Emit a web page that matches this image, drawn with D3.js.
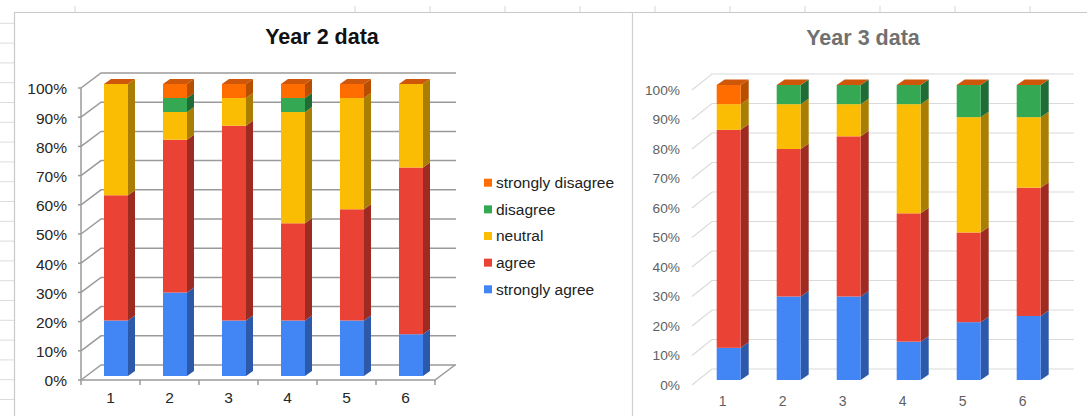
<!DOCTYPE html>
<html>
<head>
<meta charset="utf-8">
<script src="https://cdn.jsdelivr.net/npm/d3@7"></script>
<style>
  html, body { margin: 0; padding: 0; background: #fff; }
  svg { display: block; font-family: "Liberation Sans", Arial, sans-serif; }
</style>
</head>
<body>
<svg id="sheet" width="1087" height="416"></svg>
<script>
// ---- data ----
const categories = ["1", "2", "3", "4", "5", "6"];
const seriesNames = ["strongly agree", "agree", "neutral", "disagree", "strongly disagree"];

// Year 2 (% of responses)
const year2StronglyAgree    = [19.0, 28.6, 19.0, 19.0, 19.0, 14.3];
const year2Agree            = [42.9, 52.4, 66.7, 33.3, 38.1, 57.1];
const year2Neutral          = [38.1,  9.5,  9.5, 38.1, 38.1, 28.6];
const year2Disagree         = [ 0.0,  4.8,  0.0,  4.8,  0.0,  0.0];
const year2StronglyDisagree = [ 0.0,  4.8,  4.8,  4.8,  4.8,  0.0];

// Year 3 (% of responses)
const year3StronglyAgree    = [10.9, 28.3, 28.3, 13.0, 19.6, 21.7];
const year3Agree            = [73.9, 50.0, 54.3, 43.5, 30.4, 43.5];
const year3Neutral          = [ 8.7, 15.2, 10.9, 37.0, 39.1, 23.9];
const year3Disagree         = [ 0.0,  6.5,  6.5,  6.5, 10.9, 10.9];
const year3StronglyDisagree = [ 6.5,  0.0,  0.0,  0.0,  0.0,  0.0];

const percentTicks = [0, 10, 20, 30, 40, 50, 60, 70, 80, 90, 100];

// face / side colours per response
const faceColor = {
  "strongly agree": "#4285f4", "agree": "#ea4335", "neutral": "#fbbc04",
  "disagree": "#34a853", "strongly disagree": "#ff6d01"
};
const sideColor = {
  "strongly agree": "#2c59a9", "agree": "#9e2b22", "neutral": "#a97e02",
  "disagree": "#1f6c37", "strongly disagree": "#b84e00"
};
const capColor = "#cf570a";

function buildRows(sa, a, n, d, sd) {
  return categories.map((c, i) => ({
    cat: c,
    "strongly agree": sa[i], "agree": a[i], "neutral": n[i],
    "disagree": d[i], "strongly disagree": sd[i]
  }));
}
const year2Rows = buildRows(year2StronglyAgree, year2Agree, year2Neutral, year2Disagree, year2StronglyDisagree);
const year3Rows = buildRows(year3StronglyAgree, year3Agree, year3Neutral, year3Disagree, year3StronglyDisagree);

const svg = d3.select("#sheet");
svg.append("rect").attr("width", 1087).attr("height", 416).attr("fill", "#fff");

// ---- spreadsheet backdrop: row / column guides and chart frames ----
const back = svg.append("g");
d3.range(23.3, 416, 19.8).forEach(y => {
  back.append("line").attr("x1", 0).attr("x2", 14).attr("y1", y).attr("y2", y)
    .attr("stroke", "#dcdcdc").attr("stroke-width", 1);
});
[75, 355, 430, 505, 580, 655, 730, 805, 880, 955, 1030].forEach(x => {
  back.append("line").attr("x1", x).attr("x2", x).attr("y1", 6).attr("y2", 12)
    .attr("stroke", "#d6d6d6").attr("stroke-width", 1);
});
back.append("line").attr("x1", 14).attr("x2", 1087).attr("y1", 12.5).attr("y2", 12.5)
  .attr("stroke", "#c9c9c9").attr("stroke-width", 1.2);
back.append("line").attr("x1", 14.5).attr("x2", 14.5).attr("y1", 12).attr("y2", 416)
  .attr("stroke", "#c9c9c9").attr("stroke-width", 1.2);
back.append("line").attr("x1", 632.5).attr("x2", 632.5).attr("y1", 12).attr("y2", 416)
  .attr("stroke", "#cfcfcf").attr("stroke-width", 1.2);

// ---- one 3D stacked 100% column chart ----
function drawChart(rows, o) {
  const g = svg.append("g");
  const x = d3.scaleBand().domain(categories).range(o.bandRange);
  const y = d3.scaleLinear().domain([0, 1]).range(o.barRange);
  const stack = d3.stack().keys(seriesNames).offset(d3.stackOffsetExpand);
  const layers = stack(rows);

  // title
  g.append("text").attr("x", o.titleX).attr("y", o.titleY)
    .attr("text-anchor", "middle").attr("font-weight", "bold")
    .attr("font-size", 21.5).attr("fill", o.titleColor).text(o.title);

  // gridlines: diagonal on the side wall, horizontal on the back wall
  const gridFront = v => y(v / 100) + o.frontShift;
  const grid = g.append("g").attr("stroke", o.gridColor).attr("stroke-width", o.gridWidth)
    .attr("fill", "none");
  percentTicks.forEach(t => {
    const yf = gridFront(t);
    grid.append("path").attr("d",
      `M${o.frontX},${yf}L${o.frontX + o.wallDx},${yf + o.wallDy}L${o.backRight},${yf + o.wallDy}`);
  });
  if (o.axisLines) {
    const y0 = gridFront(0), y100 = gridFront(100);
    const x1 = o.bandRange[1];
    grid.append("path").attr("d", `M${o.frontX},${y100}L${o.frontX},${y0}L${x1},${y0}L${x1 + o.wallDx},${y0 + o.wallDy}`);
    percentTicks.forEach(t => {
      grid.append("line").attr("x1", o.frontX - 3).attr("x2", o.frontX)
        .attr("y1", gridFront(t)).attr("y2", gridFront(t));
    });
    [...categories.map(c => x(c)), x1].forEach(px => {
      grid.append("line").attr("x1", px).attr("x2", px).attr("y1", y0).attr("y2", y0 + 5);
    });
  }

  // y tick labels
  g.append("g").selectAll("text").data(percentTicks).join("text")
    .attr("x", o.yLabelX).attr("y", t => gridFront(t) + o.yLabelShift)
    .attr("dy", "0.35em").attr("text-anchor", "end")
    .attr("font-size", o.yFont).attr("fill", o.labelColor)
    .text(t => t + "%");

  // x category labels
  g.append("g").selectAll("text").data(categories).join("text")
    .attr("x", c => x(c) + x.bandwidth() / 2).attr("y", o.xLabelY)
    .attr("dy", "0.35em").attr("text-anchor", "middle")
    .attr("font-size", o.xFont).attr("fill", o.labelColor)
    .text(c => c);

  // bars
  const bw = o.barWidth, dx = o.depthDx, dy = o.depthDy;
  const barLeft = c => x(c) + x.bandwidth() / 2 + o.barShift - bw / 2;
  const bars = g.append("g");
  layers.forEach(layer => {
    layer.forEach((seg, i) => {
      const c = categories[i];
      const x0 = barLeft(c), x1 = x0 + bw;
      const yb = y(seg[0]), yt = y(seg[1]);
      if (yb - yt < 0.01) return;
      bars.append("path")
        .attr("d", `M${x1},${yb}L${x1},${yt}L${x1 + dx},${yt + dy}L${x1 + dx},${yb + dy}Z`)
        .attr("fill", sideColor[layer.key]);
      bars.append("rect").attr("x", x0).attr("y", yt).attr("width", bw).attr("height", yb - yt)
        .attr("fill", faceColor[layer.key]);
    });
  });
  // top caps
  categories.forEach(c => {
    const x0 = barLeft(c), x1 = x0 + bw, yt = y(1);
    bars.append("path")
      .attr("d", `M${x0},${yt}L${x1},${yt}L${x1 + dx},${yt + dy}L${x0 + dx},${yt + dy}Z`)
      .attr("fill", capColor);
  });
}

drawChart(year2Rows, {
  title: "Year 2 data", titleX: 322, titleY: 44, titleColor: "#111",
  bandRange: [81, 435], barRange: [376, 84], frontShift: 4,
  frontX: 81, wallDx: 20, wallDy: -15, backRight: 456,
  gridColor: "#9a9a9a", gridWidth: 1.5, axisLines: true,
  yLabelX: 67, yLabelShift: 1, yFont: 15.5, labelColor: "#262626",
  xLabelY: 398, xFont: 15.5,
  barWidth: 24, barShift: 5.5, depthDx: 7, depthDy: -5
});

drawChart(year3Rows, {
  title: "Year 3 data", titleX: 863, titleY: 45, titleColor: "#707070",
  bandRange: [692.7, 1052.7], barRange: [380, 85], frontShift: 5,
  frontX: 692, wallDx: 20, wallDy: -16, backRight: 1074,
  gridColor: "#dadada", gridWidth: 1.2, axisLines: false,
  yLabelX: 680, yLabelShift: 0, yFont: 13.7, labelColor: "#5f5f5f",
  xLabelY: 401, xFont: 14,
  barWidth: 24, barShift: 6, depthDx: 8, depthDy: -5.5
});

// ---- legend ----
const legend = svg.append("g");
const legendOrder = seriesNames.slice().reverse();
legendOrder.forEach((name, i) => {
  const cy = 182.7 + i * 26.65;
  legend.append("rect").attr("x", 484).attr("y", cy - 4).attr("width", 8).attr("height", 8)
    .attr("fill", faceColor[name]);
  legend.append("text").attr("x", 496).attr("y", cy).attr("dy", "0.35em")
    .attr("font-size", 15.5).attr("fill", "#222").text(name);
});
</script>
</body>
</html>
